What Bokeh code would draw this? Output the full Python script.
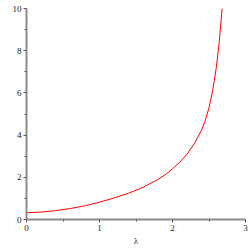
from bokeh.plotting import figure
from bokeh.embed import file_html
from bokeh.resources import INLINE
from bokeh.models import FixedTicker

lam = [0.0, 0.2, 0.4, 0.6, 0.8, 1.0, 1.2, 1.4, 1.6, 1.8, 1.9, 2.0, 2.1, 2.2,
       2.3, 2.4, 2.45, 2.5, 2.55, 2.6, 2.64, 2.68]
yvals = [0.32, 0.35, 0.42, 0.52, 0.65, 0.82, 1.02, 1.25, 1.53, 1.9, 2.12, 2.4, 2.72, 3.1,
         3.6, 4.25, 4.7, 5.3, 6.1, 7.2, 8.4, 10.0]
x_ticks = [0, 1, 2, 3]
y_ticks = [0, 2, 4, 6, 8, 10]

p = figure(width=248, height=248, x_range=(0, 3), y_range=(0, 10),
           output_backend="svg", toolbar_location=None,
           min_border_left=26, min_border_right=3, min_border_top=8, min_border_bottom=25)
p.outline_line_color = None
p.xgrid.grid_line_color = None
p.ygrid.grid_line_color = None
p.background_fill_color = "white"

p.line(lam, yvals, line_color="red", line_width=1.0)

p.xaxis.ticker = FixedTicker(ticks=x_ticks, minor_ticks=[0.5, 1.5, 2.5])
p.yaxis.ticker = FixedTicker(ticks=y_ticks, minor_ticks=[1, 3, 5, 7, 9])
p.xaxis.axis_label = "λ"
for ax in (p.xaxis, p.yaxis):
    ax.axis_line_color = "#8c8c8c"
    ax.axis_line_width = 2
    ax.major_tick_line_color = "#555555"
    ax.minor_tick_line_color = "#555555"
    ax.major_tick_out = 3
    ax.major_tick_in = 0
    ax.minor_tick_out = 2
    ax.minor_tick_in = 0
    ax.major_label_text_font = "Liberation Serif"
    ax.major_label_text_font_size = "9px"
    ax.major_label_text_color = "#222222"
    ax.major_label_standoff = 2
    ax.axis_label_text_font = "Liberation Serif"
    ax.axis_label_text_font_size = "9px"
    ax.axis_label_text_font_style = "normal"
    ax.axis_label_text_color = "#222222"
    ax.axis_label_standoff = 2

open("out.html", "w").write(file_html(p, INLINE))
